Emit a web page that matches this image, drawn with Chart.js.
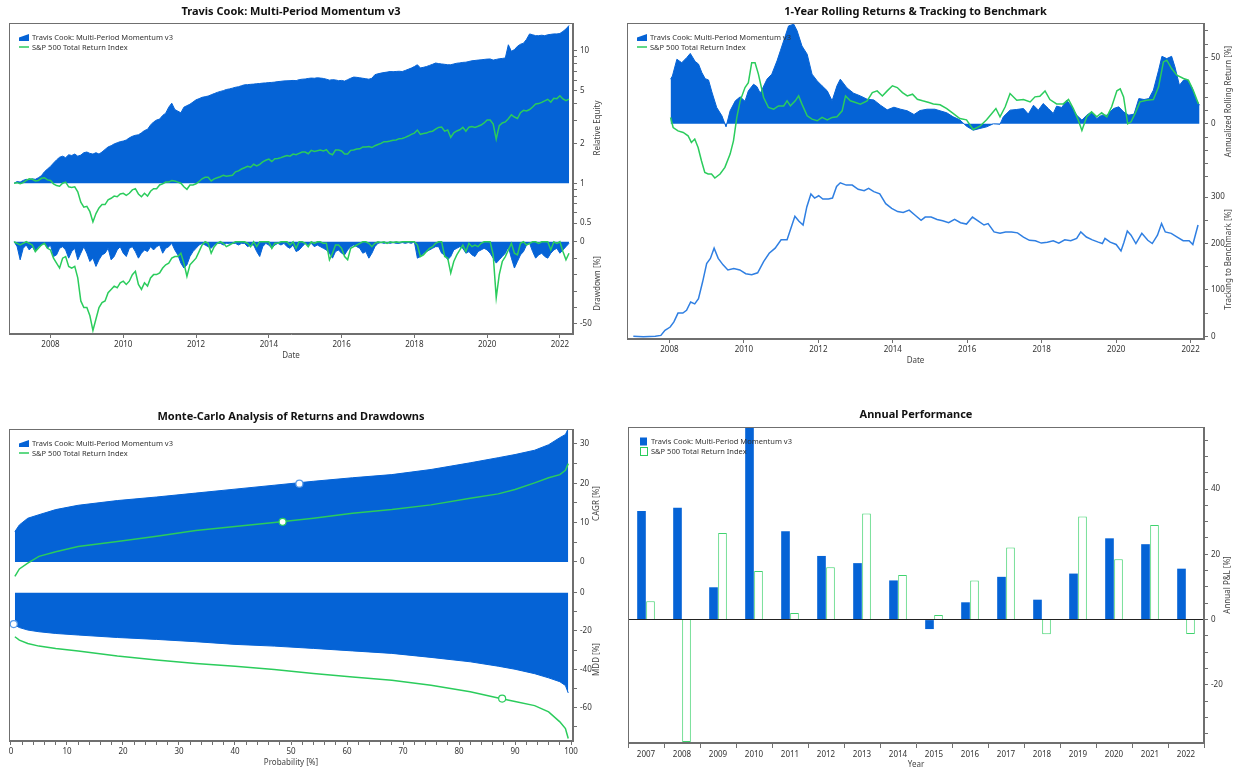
<!DOCTYPE html>
<html>
<head>
<meta charset="utf-8">
<title>Multi-Period Momentum v3 – Backtest Report</title>
<script src="https://cdn.jsdelivr.net/npm/chart.js@4.4.1/dist/chart.umd.min.js"></script>
<style>
    html, body { margin: 0; padding: 0; background: #fff; }
    #report { position: relative; width: 1238px; height: 770px; }
    .panel { position: absolute; width: 619px; height: 385px; }
    .panel canvas { display: block; }
</style>
</head>
<body>
<div id="report">
    <div class="panel" style="left:0;top:0"><canvas id="equity-chart" width="619" height="385"></canvas></div>
    <div class="panel" style="left:619px;top:0"><canvas id="rolling-chart" width="619" height="385"></canvas></div>
    <div class="panel" style="left:0;top:385px"><canvas id="montecarlo-chart" width="619" height="385"></canvas></div>
    <div class="panel" style="left:619px;top:385px"><canvas id="annual-chart" width="619" height="385"></canvas></div>
</div>
<script>
// Series names
const STRATEGY = 'Travis Cook: Multi-Period Momentum v3';
const BENCHMARK = 'S&P 500 Total Return Index';

// Equity curves, one value per month starting Jan 2007 (relative to start)
const equityStart = 2007;
const strategyEquity = [
    1.00, 1.03, 1.02, 1.05, 1.07, 1.06, 1.08, 1.07, 1.10, 1.14, 1.22, 1.28,
    1.34, 1.42, 1.50, 1.57, 1.60, 1.56, 1.64, 1.62, 1.66, 1.60, 1.63, 1.70,
    1.72, 1.68, 1.66, 1.70, 1.66, 1.72, 1.80, 1.88, 1.92, 1.98, 2.02, 2.06,
    2.08, 2.12, 2.20, 2.26, 2.30, 2.32, 2.40, 2.50, 2.55, 2.75, 2.90, 3.00,
    3.05, 3.25, 3.38, 3.75, 4.02, 3.60, 3.50, 3.40, 3.75, 3.85, 3.95, 4.10,
    4.26, 4.35, 4.45, 4.50, 4.55, 4.65, 4.75, 4.85, 4.93, 5.00, 5.10, 5.15,
    5.22, 5.30, 5.35, 5.45, 5.53, 5.55, 5.58, 5.60, 5.64, 5.66, 5.70, 5.72,
    5.75, 5.77, 5.80, 5.85, 5.88, 5.92, 5.93, 5.95, 5.97, 5.95, 6.05, 6.10,
    6.12, 6.18, 6.22, 6.20, 6.25, 6.22, 6.18, 6.10, 6.00, 6.05, 6.02, 5.95,
    5.97, 5.90, 6.05, 6.20, 6.33, 6.30, 6.25, 6.20, 6.15, 6.10, 6.20, 6.60,
    6.70, 6.78, 6.85, 6.90, 6.97, 6.95, 6.98, 7.00, 6.97, 7.10, 7.25, 7.40,
    7.60, 7.84, 7.42, 7.50, 7.60, 7.75, 7.90, 8.08, 8.00, 7.95, 7.90, 7.84,
    7.84, 7.95, 8.05, 8.10, 8.17, 8.20, 8.30, 8.40, 8.45, 8.50, 8.54, 8.60,
    8.65, 8.67, 8.50, 8.60, 8.70, 8.75, 8.82, 11.1, 9.90, 10.2, 10.8, 11.2,
    11.4, 12.2, 13.4, 13.2, 13.0, 13.0, 13.1, 13.0, 13.2, 13.3, 13.4, 13.4,
    13.5, 14.0, 14.6, 15.5
];
const benchmarkEquity = [
    1.00, 1.01, 0.99, 1.01, 1.05, 1.08, 1.07, 1.04, 1.05, 1.09, 1.10, 1.06,
    1.05, 0.99, 0.96, 0.95, 1.00, 1.02, 0.94, 0.93, 0.94, 0.86, 0.72, 0.66,
    0.67, 0.61, 0.51, 0.59, 0.65, 0.69, 0.69, 0.75, 0.77, 0.80, 0.79, 0.83,
    0.84, 0.81, 0.84, 0.89, 0.91, 0.83, 0.79, 0.84, 0.80, 0.87, 0.91, 0.91,
    0.97, 0.99, 1.02, 1.02, 1.05, 1.04, 1.02, 1.00, 0.94, 0.90, 0.97, 0.97,
    0.99, 1.03, 1.08, 1.11, 1.11, 1.04, 1.08, 1.10, 1.12, 1.15, 1.13, 1.14,
    1.15, 1.22, 1.24, 1.28, 1.31, 1.34, 1.32, 1.39, 1.35, 1.39, 1.45, 1.49,
    1.52, 1.46, 1.53, 1.54, 1.56, 1.59, 1.62, 1.60, 1.66, 1.64, 1.68, 1.72,
    1.72, 1.67, 1.77, 1.74, 1.76, 1.78, 1.75, 1.79, 1.68, 1.64, 1.78, 1.78,
    1.75, 1.66, 1.66, 1.77, 1.78, 1.81, 1.82, 1.88, 1.88, 1.89, 1.86, 1.92,
    1.96, 2.00, 2.06, 2.06, 2.08, 2.11, 2.12, 2.17, 2.18, 2.22, 2.27, 2.34,
    2.39, 2.52, 2.34, 2.37, 2.39, 2.45, 2.47, 2.56, 2.64, 2.66, 2.47, 2.52,
    2.22, 2.40, 2.48, 2.53, 2.64, 2.47, 2.65, 2.68, 2.64, 2.69, 2.75, 2.85,
    3.00, 3.00, 2.80, 2.15, 2.72, 2.85, 2.90, 3.07, 3.28, 3.16, 3.08, 3.41,
    3.55, 3.51, 3.60, 3.76, 3.96, 3.99, 4.08, 4.18, 4.30, 4.10, 4.38, 4.35,
    4.57, 4.33, 4.20, 4.32
];

// Drawdowns [%], same monthly grid
const strategyDrawdown = [
    0, -3, -11, -4, -2, -5, -3, -6, -3, -2, -1, -4,
    -2, -9, -8, -4, -3, -5, -10, -6, -4, -11, -7, -3,
    -7, -12, -10, -15, -11, -8, -7, -4, -11, -9, -5, -3,
    -7, -9, -4, -3, -6, -10, -7, -5, -6, -3, -5, -3,
    -2, -7, -4, -3, -1, -5, -8, -13, -16, -14, -9, -6,
    -4, -2, -1, -2, -3, -4, -2, -1, -1, -2, -1, -1,
    -1, -1, -2, -1, -1, -3, -2, -2, -6, -9, -3, -1,
    -2, -4, -2, -1, -2, -1, -3, -4, -2, -6, -5, -3,
    -1, -2, -1, -3, -2, -3, -4, -5, -7, -10, -6, -5,
    -7, -8, -5, -3, -2, -3, -4, -7, -6, -10, -7, -3,
    -1, -0.5, -1, -0.5, -1, -0.5, -1, -1, -0.5, -1, -0.5, -1,
    0, -10, -9, -7, -6, -5, -4, -3, -3, -7, -8, -11,
    -9, -5, -4, -3, -4, -7, -6, -8, -9, -6, -5, -4,
    -5, -7, -10, -13, -11, -9, -7, -3, -10, -16, -12, -8,
    -6, -2, -1, -6, -10, -8, -7, -9, -10, -7, -5, -4,
    -7, -5, -3, -1
];
const benchmarkDrawdown = [
    0, -1, -2, -1, 0, -1, -2, -6, -4, -2, -1, -4,
    -5, -10, -13, -16, -10, -9, -15, -16, -15, -22, -36, -40,
    -40, -45, -54, -47, -40, -37, -36, -31, -29, -27, -28, -25,
    -24, -26, -24, -20, -18, -26, -29, -25, -27, -22, -20, -20,
    -19, -16, -14, -13, -10, -9, -9, -7, -13, -21, -14, -12,
    -10, -6, -2, 0, -1, -7, -3, -1, 0, -1, -3, -2,
    -1, 0, 0, 0, 0, -1, -3, 0, -3, 0, 0, 0,
    0, -4, -1, -1, 0, 0, 0, -2, 0, -4, 0, 0,
    -1, -3, 0, -1, 0, 0, -1, -1, -11, -7, -2, -2,
    -4, -9, -11, -4, -3, -2, -1, 0, 0, -1, -3, -1,
    0, -0.5, 0, -1, 0, -0.5, 0, -0.5, 0, 0, 0, 0,
    0, -2, -9, -8, -6, -4, -3, -1, 0, 0, -9, -10,
    -19, -12, -8, -5, -2, -6, -1, -3, -2, -3, -1, 0,
    0, 0, -8, -34, -20, -12, -9, -5, -1, -7, -8, -1,
    0, -2, -1, 0, 0, -1, 0, 0, 0, -5, 0, -1,
    0, -6, -11, -7
];

// 1-year rolling returns [%] as [date, value]
const strategyRolling = [
    [2008.03, 33.6], [2008.08, 36], [2008.2, 48.6], [2008.33, 46], [2008.47, 50], [2008.56, 53],
    [2008.69, 47], [2008.78, 45], [2008.87, 38.6], [2008.96, 34], [2009.05, 33], [2009.14, 24],
    [2009.27, 12.3], [2009.41, 6], [2009.52, -2.3], [2009.63, 9.8], [2009.77, 17.3], [2009.9, 20.3],
    [2010.03, 17], [2010.12, 24.8], [2010.26, 29.8], [2010.35, 28], [2010.44, 23], [2010.62, 33.6],
    [2010.75, 37.4], [2010.89, 47.4], [2010.98, 55], [2011.11, 66], [2011.2, 73.7], [2011.34, 75],
    [2011.43, 70], [2011.56, 58.6], [2011.7, 52.4], [2011.83, 37.4], [2011.97, 32.3], [2012.1, 28.6],
    [2012.24, 24.8], [2012.37, 17.3], [2012.5, 28.6], [2012.59, 33.6], [2012.77, 27], [2012.95, 23],
    [2013.13, 21], [2013.31, 18.5], [2013.49, 18], [2013.67, 14], [2013.85, 10.5], [2014.03, 12.5],
    [2014.21, 11], [2014.39, 9.8], [2014.57, 7], [2014.73, 10], [2014.92, 11], [2015.13, 11],
    [2015.27, 9.8], [2015.45, 8.3], [2015.62, 5.3], [2015.8, 3], [2015.98, -1.8], [2016.16, -4.8],
    [2016.34, -3.5], [2016.52, -2.3], [2016.7, 0], [2016.88, -0.3], [2016.97, 5.3], [2017.15, 10.3],
    [2017.33, 10.8], [2017.51, 11.5], [2017.64, 7.3], [2017.78, 14], [2017.91, 10.3], [2018.04, 15.3],
    [2018.18, 11.5], [2018.31, 7.8], [2018.4, 13.3], [2018.54, 12.3], [2018.67, 17.8], [2018.81, 12.8],
    [2018.94, 6.5], [2019.08, 2.8], [2019.21, 6.5], [2019.34, 9], [2019.48, 4], [2019.61, 6.5],
    [2019.75, 6.5], [2019.93, 11.5], [2020.07, 12.8], [2020.2, 9], [2020.34, 6.5], [2020.48, 7.3],
    [2020.61, 19], [2020.75, 18.3], [2020.88, 19], [2021.0, 25.3], [2021.14, 40.3], [2021.23, 50.8],
    [2021.36, 49.1], [2021.49, 50.8], [2021.58, 42.8], [2021.7, 29], [2021.81, 32.9], [2021.9, 33.4],
    [2022.03, 27.8], [2022.16, 17.8], [2022.24, 14]
];
const benchmarkRolling = [
    [2008.03, 4.8], [2008.1, -2.8], [2008.23, -5.3], [2008.37, -6.5], [2008.5, -9], [2008.59, -14],
    [2008.68, -11.5], [2008.77, -17.8], [2008.86, -27.8], [2008.95, -36.6], [2009.04, -37.8], [2009.13, -37.8],
    [2009.22, -40.8], [2009.36, -37.8], [2009.49, -32.8], [2009.63, -22.8], [2009.72, -12.8], [2009.81, 4.8],
    [2009.9, 17.3], [2010.03, 27.3], [2010.12, 31], [2010.21, 46], [2010.3, 46], [2010.39, 37.4],
    [2010.53, 19.8], [2010.66, 12.3], [2010.8, 11], [2010.93, 13.5], [2011.07, 13.5], [2011.16, 17.3],
    [2011.25, 13.5], [2011.38, 17.3], [2011.47, 21], [2011.56, 14.8], [2011.7, 6], [2011.83, 3.5],
    [2011.97, 2.3], [2012.1, 4.8], [2012.24, 3], [2012.37, 4.8], [2012.5, 5.3], [2012.64, 9.8],
    [2012.73, 21], [2012.86, 17.3], [2013.0, 16], [2013.13, 14.8], [2013.31, 17.3], [2013.45, 23.5],
    [2013.58, 24.8], [2013.72, 21], [2013.85, 24.8], [2013.99, 28.6], [2014.12, 27.3], [2014.26, 23.5],
    [2014.39, 21], [2014.53, 22.3], [2014.66, 18.5], [2014.8, 17.3], [2014.97, 16], [2015.09, 15],
    [2015.27, 14.3], [2015.45, 11.5], [2015.62, 7.8], [2015.8, 4], [2015.98, 3], [2016.16, -4.3],
    [2016.34, -1.8], [2016.52, 3], [2016.66, 7.8], [2016.77, 11.5], [2016.88, 5.3], [2017.02, 12.8],
    [2017.15, 22.8], [2017.33, 17.8], [2017.51, 18.3], [2017.69, 16.5], [2017.82, 20.3], [2017.95, 20.8],
    [2018.09, 24.8], [2018.22, 18.3], [2018.4, 15], [2018.58, 15], [2018.72, 18.3], [2018.85, 11.5],
    [2018.98, 3], [2019.08, -5], [2019.21, 5.3], [2019.34, 9], [2019.48, 5.3], [2019.61, 8.3],
    [2019.75, 5.3], [2019.88, 12.8], [2020.02, 24.8], [2020.11, 26.3], [2020.2, 20.3], [2020.31, 0],
    [2020.4, 1.5], [2020.51, 7.8], [2020.64, 16.5], [2020.82, 17.8], [2021.0, 18.3], [2021.14, 27.8],
    [2021.27, 46.6], [2021.36, 47.9], [2021.49, 41.6], [2021.63, 36.6], [2021.81, 34.1], [2021.94, 32.9],
    [2022.07, 25.3], [2022.21, 15]
];

// Tracking to benchmark [%] as [date, value]
const tracking = [
    [2007.03, 0], [2007.3, -1], [2007.62, 0], [2007.77, 2], [2007.88, 13], [2008.02, 20],
    [2008.12, 31], [2008.23, 50], [2008.36, 50], [2008.46, 56], [2008.57, 74], [2008.68, 70],
    [2008.78, 81], [2008.89, 117], [2009.0, 157], [2009.1, 168], [2009.2, 190], [2009.31, 168],
    [2009.44, 154], [2009.57, 143], [2009.73, 146], [2009.89, 143], [2010.05, 135], [2010.21, 133],
    [2010.37, 137], [2010.53, 161], [2010.68, 179], [2010.84, 190], [2011.0, 208], [2011.16, 208],
    [2011.37, 259], [2011.48, 248], [2011.59, 240], [2011.69, 279], [2011.8, 307], [2011.9, 298],
    [2012.01, 303], [2012.12, 296], [2012.27, 296], [2012.38, 298], [2012.49, 323], [2012.59, 331],
    [2012.75, 326], [2012.91, 326], [2013.07, 317], [2013.23, 314], [2013.35, 319], [2013.49, 312],
    [2013.65, 307], [2013.81, 286], [2013.97, 276], [2014.13, 269], [2014.28, 267], [2014.44, 272],
    [2014.6, 261], [2014.76, 250], [2014.87, 257], [2015.03, 257], [2015.19, 252], [2015.34, 249],
    [2015.5, 245], [2015.66, 252], [2015.82, 245], [2015.98, 242], [2016.14, 257], [2016.29, 249],
    [2016.45, 240], [2016.56, 243], [2016.72, 225], [2016.88, 222], [2017.03, 225], [2017.19, 225],
    [2017.35, 223], [2017.51, 214], [2017.67, 207], [2017.83, 206], [2017.99, 201], [2018.15, 203],
    [2018.31, 206], [2018.46, 201], [2018.62, 208], [2018.78, 206], [2018.94, 211], [2019.05, 225],
    [2019.2, 214], [2019.36, 208], [2019.52, 203], [2019.63, 200], [2019.7, 211], [2019.84, 203],
    [2020.0, 198], [2020.13, 184], [2020.21, 203], [2020.3, 227], [2020.4, 218], [2020.53, 200],
    [2020.69, 222], [2020.85, 207], [2020.97, 200], [2021.11, 218], [2021.22, 243], [2021.32, 225],
    [2021.48, 222], [2021.64, 214], [2021.8, 206], [2021.96, 206], [2022.06, 198], [2022.2, 240]
];

// Monte-Carlo percentiles
const mcProbability = [0.7, 1.5, 3, 5, 8, 12, 19, 26, 33, 40, 47, 54, 61, 68, 75, 82, 87, 90, 93.5, 96, 98, 99, 99.5];
const mcStrategyCagr = [7.7, 9.4, 11.1, 12.0, 13.3, 14.4, 15.6, 16.5, 17.5, 18.5, 19.5, 20.5, 21.4, 22.2, 23.5, 25.2, 26.5, 27.3, 28.4, 29.8, 31.6, 32.4, 33.9];
const mcBenchmarkCagr = [-3.7, -1.8, -0.3, 1.4, 2.6, 3.9, 5.2, 6.5, 8.0, 9.0, 10.0, 11.1, 12.4, 13.3, 14.5, 16.2, 17.3, 18.4, 20.1, 21.4, 22.2, 23.3, 25.0];
const mcStrategyMdd = [-16.9, -18.2, -19.5, -20.4, -21.3, -22.1, -23.4, -24.4, -25.6, -27.0, -27.9, -29.1, -30.4, -31.7, -33.8, -36.1, -38.4, -40.0, -42.3, -44.5, -46.5, -48.5, -52.4];
const mcBenchmarkMdd = [-23, -24.8, -26.5, -27.9, -29.2, -30.4, -33.1, -35.2, -37, -38.4, -40.1, -42.2, -44, -45.7, -48.3, -51.8, -55.0, -56.8, -59.0, -62.3, -67.5, -71, -76.2];
// actual results placed on the distributions: [probability, value]
const mcStrategyCagrMark = [51.5, 19.9];
const mcBenchmarkCagrMark = [48.5, 10.2];
const mcStrategyMddMark = [0.5, -16.4];
const mcBenchmarkMddMark = [87.7, -55.3];

// Annual P&L [%]
const years = ['2007', '2008', '2009', '2010', '2011', '2012', '2013', '2014', '2015', '2016', '2017', '2018', '2019', '2020', '2021', '2022'];
const strategyAnnual = [33.3, 34.3, 9.9, 58.8, 27.1, 19.5, 17.3, 12.0, -2.9, 5.3, 13.1, 6.1, 14.1, 24.9, 23.1, 15.6];
const benchmarkAnnual = [5.6, -37.5, 26.5, 14.9, 2.0, 16.0, 32.5, 13.7, 1.4, 12.0, 22.1, -4.5, 31.6, 18.5, 29.0, -4.4];

// Axis ticks
const yearTicks = [2008, 2010, 2012, 2014, 2016, 2018, 2020, 2022];
const equityTicks = [0.5, 0.6, 0.7, 0.8, 0.9, 1, 2, 3, 4, 5, 6, 7, 8, 9, 10];
const equityLabels = [0.5, 1, 2, 5, 10];
const drawdownTicks = [0, -10, -20, -30, -40, -50];
const drawdownLabels = [0, -50];
const rollingTicks = [-40, -30, -20, -10, 0, 10, 20, 30, 40, 50, 60, 70];
const rollingLabels = [0, 50];
const trackingTicks = [0, 50, 100, 150, 200, 250, 300];
const trackingLabels = [0, 100, 200, 300];
const cagrTicks = [0, 5, 10, 15, 20, 25, 30];
const cagrLabels = [0, 10, 20, 30];
const mddTicks = [0, -10, -20, -30, -40, -50, -60, -70];
const mddLabels = [0, -20, -40, -60];
const probTicks = Array.from({ length: 51 }, (_, i) => i * 2);
const probLabels = [0, 10, 20, 30, 40, 50, 60, 70, 80, 90, 100];
const pnlTicks = [-35, -30, -25, -20, -15, -10, -5, 0, 5, 10, 15, 20, 25, 30, 35, 40, 45, 50, 55];
const pnlLabels = [-20, 0, 20, 40];

// Styling
const FONT = '"Noto Sans", "Open Sans", sans-serif';
const BLUE = '#0563d6';
const GREEN = '#2bcc5c';
const TRACK_BLUE = '#2f7fe2';
const AXIS_GREY = '#6f6f6f';
const TEXT = '#333';

Chart.defaults.font.family = FONT;
Chart.defaults.font.size = 8;
Chart.defaults.color = TEXT;
Chart.defaults.animation = false;
Chart.defaults.devicePixelRatio = 1;
Chart.defaults.plugins.legend.display = false;
Chart.defaults.plugins.tooltip.enabled = false;

const monthly = values => values.map((y, i) => ({ x: equityStart + i / 12, y }));
const points = list => list.map(([x, y]) => ({ x, y }));
const onGrid = values => values.map((y, i) => ({ x: mcProbability[i], y }));

// Frame, titles and legend drawn over each panel
const panelDecor = {
    id: 'panelDecor',
    afterDraw(chart, args, opts) {
        const { ctx, chartArea: a } = chart;
        ctx.save();
        ctx.strokeStyle = AXIS_GREY;
        ctx.lineWidth = 1;
        ctx.strokeRect(Math.round(a.left) + 0.5, Math.round(a.top) + 0.5,
            Math.round(a.right - a.left) - 1, Math.round(a.bottom - a.top) - 1);

        ctx.textAlign = 'center';
        ctx.textBaseline = 'middle';
        ctx.fillStyle = '#111';
        ctx.font = `bold 11px ${FONT}`;
        ctx.fillText(opts.title, (a.left + a.right) / 2, opts.titleY);

        ctx.fillStyle = '#444';
        ctx.font = `8px ${FONT}`;
        ctx.fillText(opts.xTitle, (a.left + a.right) / 2, a.bottom + 22);
        opts.yTitles.forEach(t => {
            const s = chart.scales[t.id];
            ctx.save();
            ctx.translate(a.right + opts.yTitleGap, (s.top + s.bottom) / 2);
            ctx.rotate(-Math.PI / 2);
            ctx.fillText(t.text, 0, 0);
            ctx.restore();
        });

        ctx.textAlign = 'left';
        ctx.font = `7.5px ${FONT}`;
        opts.legend.forEach((item, i) => {
            const x = a.left + 10;
            const y = a.top + 14.5 + i * 9.5;
            if (item.icon === 'area') {
                ctx.fillStyle = BLUE;
                ctx.beginPath();
                ctx.moveTo(x, y + 3.5);
                ctx.lineTo(x, y);
                ctx.lineTo(x + 10, y - 3.5);
                ctx.lineTo(x + 10, y + 3.5);
                ctx.closePath();
                ctx.fill();
            } else if (item.icon === 'line') {
                ctx.strokeStyle = GREEN;
                ctx.lineWidth = 1.5;
                ctx.beginPath();
                ctx.moveTo(x, y);
                ctx.lineTo(x + 10, y);
                ctx.stroke();
            } else if (item.icon === 'box') {
                ctx.fillStyle = BLUE;
                ctx.fillRect(x + 2, y - 4, 7, 8);
            } else {
                ctx.fillStyle = '#fff';
                ctx.strokeStyle = GREEN;
                ctx.lineWidth = 1;
                ctx.fillRect(x + 2, y - 4, 7, 8);
                ctx.strokeRect(x + 2.5, y - 3.5, 7, 8);
            }
            ctx.fillStyle = TEXT;
            ctx.fillText(item.label, a.left + 23, y + 0.5);
        });
        ctx.restore();
    }
};

function sideAxis({ width, ticks, labels, ...rest }) {
    return {
        position: 'right',
        grid: { drawOnChartArea: false, tickLength: 4, tickColor: AXIS_GREY },
        border: { color: AXIS_GREY },
        ticks: { autoSkip: false, padding: 3, color: TEXT, callback: v => labels.includes(v) ? String(v) : '' },
        afterBuildTicks: s => { s.ticks = ticks.map(value => ({ value })); },
        afterFit: s => { s.width = width; },
        ...rest
    };
}

function bottomAxis({ height, ticks, labels, ...rest }) {
    return {
        type: 'linear',
        position: 'bottom',
        grid: { drawOnChartArea: false, tickLength: 4, tickColor: AXIS_GREY },
        border: { color: AXIS_GREY },
        ticks: { autoSkip: false, maxRotation: 0, padding: 2, color: TEXT, callback: v => labels.includes(v) ? String(v) : '' },
        afterBuildTicks: s => { s.ticks = ticks.map(value => ({ value })); },
        afterFit: s => { s.height = height; },
        ...rest
    };
}

const areaStyle = { borderColor: BLUE, backgroundColor: BLUE, borderWidth: 1, pointRadius: 0, order: 2 };
const lineStyle = { borderColor: GREEN, borderWidth: 1.5, pointRadius: 0, fill: false, order: 1 };
const seriesLegend = [{ label: STRATEGY, icon: 'area' }, { label: BENCHMARK, icon: 'line' }];

// Equity and drawdown
new Chart(document.getElementById('equity-chart'), {
    type: 'line',
    data: {
        datasets: [
            { ...areaStyle, data: monthly(strategyEquity), yAxisID: 'yEq', fill: { value: 1 } },
            { ...lineStyle, data: monthly(benchmarkEquity), yAxisID: 'yEq' },
            { ...areaStyle, data: monthly(strategyDrawdown), yAxisID: 'yDd', fill: { value: 0 } },
            { ...lineStyle, data: monthly(benchmarkDrawdown), yAxisID: 'yDd' }
        ]
    },
    options: {
        responsive: false,
        layout: { padding: { left: 9, top: 23, right: 0, bottom: 23 } },
        scales: {
            x: bottomAxis({ height: 28, ticks: yearTicks, labels: yearTicks, min: 2006.86, max: 2022.36 }),
            yEq: sideAxis({ type: 'logarithmic', width: 46, ticks: equityTicks, labels: equityLabels,
                min: 0.421, max: 16.2, stack: 'equity', stackWeight: 210 }),
            yDd: sideAxis({ type: 'linear', width: 46, ticks: drawdownTicks, labels: drawdownLabels,
                min: -56.1, max: 5.3, stack: 'equity', stackWeight: 101 })
        },
        plugins: {
            panelDecor: {
                title: 'Travis Cook: Multi-Period Momentum v3', titleY: 12, xTitle: 'Date', yTitleGap: 25,
                yTitles: [{ id: 'yEq', text: 'Relative Equity' }, { id: 'yDd', text: 'Drawdown [%]' }],
                legend: seriesLegend
            }
        }
    },
    plugins: [panelDecor]
});

// Rolling returns and tracking
new Chart(document.getElementById('rolling-chart'), {
    type: 'line',
    data: {
        datasets: [
            { ...areaStyle, data: points(strategyRolling), yAxisID: 'yRoll', fill: { value: 0 } },
            { ...lineStyle, data: points(benchmarkRolling), yAxisID: 'yRoll' },
            { ...lineStyle, borderColor: TRACK_BLUE, data: points(tracking), yAxisID: 'yTrack' }
        ]
    },
    options: {
        responsive: false,
        layout: { padding: { left: 8, top: 23, right: 0, bottom: 18 } },
        scales: {
            x: bottomAxis({ height: 28, ticks: yearTicks, labels: yearTicks, min: 2006.86, max: 2022.36 }),
            yRoll: sideAxis({ type: 'linear', width: 34, ticks: rollingTicks, labels: rollingLabels,
                min: -42.3, max: 75.9, stack: 'rolling', stackWeight: 157 }),
            yTrack: sideAxis({ type: 'linear', width: 34, ticks: trackingTicks, labels: trackingLabels,
                min: -5.8, max: 337, stack: 'rolling', stackWeight: 159 })
        },
        plugins: {
            panelDecor: {
                title: '1-Year Rolling Returns & Tracking to Benchmark', titleY: 12, xTitle: 'Date', yTitleGap: 25,
                yTitles: [{ id: 'yRoll', text: 'Annualized Rolling Return [%]' }, { id: 'yTrack', text: 'Tracking to Benchmark [%]' }],
                legend: seriesLegend
            }
        }
    },
    plugins: [panelDecor]
});

// Monte-Carlo distributions
const markerStyle = { type: 'scatter', pointRadius: 3.5, pointBackgroundColor: '#fff', pointBorderWidth: 1.2, order: 0 };
new Chart(document.getElementById('montecarlo-chart'), {
    type: 'line',
    data: {
        datasets: [
            { ...areaStyle, data: onGrid(mcStrategyCagr), yAxisID: 'yCagr', fill: { value: 0 } },
            { ...lineStyle, data: onGrid(mcBenchmarkCagr), yAxisID: 'yCagr' },
            { ...areaStyle, data: onGrid(mcStrategyMdd), yAxisID: 'yMdd', fill: { value: 0 } },
            { ...lineStyle, data: onGrid(mcBenchmarkMdd), yAxisID: 'yMdd' },
            { ...markerStyle, pointBorderColor: '#5a9be8', data: points([mcStrategyCagrMark]), yAxisID: 'yCagr' },
            { ...markerStyle, pointBorderColor: GREEN, data: points([mcBenchmarkCagrMark]), yAxisID: 'yCagr' },
            { ...markerStyle, pointBorderColor: '#5a9be8', data: points([mcStrategyMddMark]), yAxisID: 'yMdd' },
            { ...markerStyle, pointBorderColor: GREEN, data: points([mcBenchmarkMddMark]), yAxisID: 'yMdd' }
        ]
    },
    options: {
        responsive: false,
        layout: { padding: { left: 9, top: 44, right: 0, bottom: 1 } },
        scales: {
            x: bottomAxis({ height: 28, ticks: probTicks, labels: probLabels, min: -0.35, max: 100.35 }),
            yCagr: sideAxis({ type: 'linear', width: 46, ticks: cagrTicks, labels: cagrLabels,
                min: -4.1, max: 33.8, stack: 'mc', stackWeight: 149 }),
            yMdd: sideAxis({ type: 'linear', width: 46, ticks: mddTicks, labels: mddLabels,
                min: -77.5, max: 7.7, stack: 'mc', stackWeight: 163 })
        },
        plugins: {
            panelDecor: {
                title: 'Monte-Carlo Analysis of Returns and Drawdowns', titleY: 32, xTitle: 'Probability [%]', yTitleGap: 24,
                yTitles: [{ id: 'yCagr', text: 'CAGR [%]' }, { id: 'yMdd', text: 'MDD [%]' }],
                legend: seriesLegend
            }
        }
    },
    plugins: [panelDecor]
});

// Annual performance
new Chart(document.getElementById('annual-chart'), {
    type: 'bar',
    data: {
        labels: years,
        datasets: [
            { data: strategyAnnual, backgroundColor: BLUE, borderWidth: 0, categoryPercentage: 0.5, barPercentage: 0.96 },
            { data: benchmarkAnnual, backgroundColor: '#fff', borderColor: '#3fd36e', borderWidth: 1, categoryPercentage: 0.5, barPercentage: 0.96 }
        ]
    },
    options: {
        responsive: false,
        layout: { padding: { left: 9, top: 42, right: 0, bottom: 0 } },
        scales: {
            x: {
                type: 'category',
                grid: { drawOnChartArea: false, offset: true, tickLength: 5, tickColor: AXIS_GREY },
                border: { color: AXIS_GREY },
                ticks: { autoSkip: false, maxRotation: 0, padding: 2, color: TEXT },
                afterFit: s => { s.height = 27; }
            },
            y: {
                position: 'right', min: -37.8, max: 59,
                grid: { color: c => (c.tick && c.tick.value === 0 ? '#222' : 'rgba(0,0,0,0)'), tickLength: 4, tickColor: AXIS_GREY },
                border: { color: AXIS_GREY },
                ticks: { autoSkip: false, padding: 3, color: TEXT, callback: v => pnlLabels.includes(v) ? String(v) : '' },
                afterBuildTicks: s => { s.ticks = pnlTicks.map(value => ({ value })); },
                afterFit: s => { s.width = 34; }
            }
        },
        plugins: {
            panelDecor: {
                title: 'Annual Performance', titleY: 30, xTitle: 'Year', yTitleGap: 24,
                yTitles: [{ id: 'y', text: 'Annual P&L [%]' }],
                legend: [{ label: STRATEGY, icon: 'box' }, { label: BENCHMARK, icon: 'openBox' }]
            }
        }
    },
    plugins: [panelDecor]
});
</script>
</body>
</html>
